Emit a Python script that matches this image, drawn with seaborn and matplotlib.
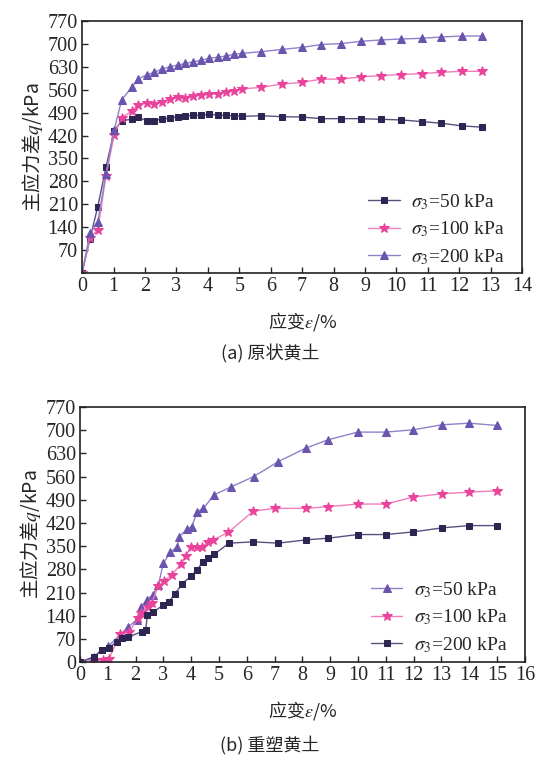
import numpy as np
import pandas as pd
import matplotlib
matplotlib.use('Agg')
import matplotlib.pyplot as plt
import seaborn as sns

# (a) undisturbed loess: strain (%) and deviator stress q (kPa)
strain_a = [0, 0.25, 0.5, 0.76, 1.02, 1.26, 1.58, 1.77, 2.06, 2.29, 2.54, 2.79, 3.04,
            3.28, 3.54, 3.79, 4.04, 4.32, 4.58, 4.83, 5.09, 5.70, 6.36, 6.98, 7.61,
            8.25, 8.88, 9.52, 10.16, 10.80, 11.43, 12.07, 12.71]
q_a_50 = [0, 103, 203, 323, 434, 466, 470, 476, 466, 466, 471, 473, 478,
          481, 482, 483, 485, 483, 482, 481, 479, 481, 478, 477, 472,
          472, 472, 470, 468, 463, 458, 450, 446]
q_a_100 = [0, 108, 131, 297, 422, 475, 495, 514, 521, 516, 524, 531, 537,
           534, 542, 544, 547, 548, 553, 557, 563, 568, 578, 583, 593,
           593, 600, 604, 607, 610, 614, 617, 617]
q_a_200 = [0, 121, 157, 303, 437, 530, 568, 593, 606, 614, 624, 631, 636,
           641, 646, 651, 657, 660, 664, 669, 672, 677, 684, 690, 699,
           702, 709, 713, 716, 718, 722, 725, 725]

# (b) remoulded loess
strain_b_50 = [0, 0.5, 1.02, 1.74, 2.04, 2.2, 2.4, 2.61, 2.82, 3.0, 3.24, 3.5, 3.57,
               3.86, 4.02, 4.22, 4.44, 4.83, 5.42, 6.25, 7.13, 8.13, 8.93, 9.99,
               11.0, 11.99, 13.01, 14.0, 14.99]
q_b_50 = [0, 15, 48, 107, 127, 165, 189, 202, 233, 298, 331, 348, 379,
          401, 409, 454, 464, 505, 528, 560, 605, 646, 671, 694,
          694, 701, 716, 721, 714]
strain_b_100 = [0, 0.51, 0.84, 1.05, 1.44, 1.76, 2.1, 2.18, 2.46, 2.58, 2.82, 3.03,
                3.3, 3.63, 3.81, 3.99, 4.21, 4.4, 4.62, 4.8, 5.34, 6.24, 7.01,
                8.13, 8.93, 9.99, 11.0, 11.99, 13.01, 14.0, 14.99]
q_b_100 = [0, 6, 8, 11, 85, 92, 132, 147, 167, 177, 230, 246,
           263, 296, 321, 347, 348, 348, 363, 369, 392, 456, 464,
           464, 469, 477, 477, 498, 508, 513, 517]
strain_b_200 = [0, 0.51, 0.78, 1.05, 1.32, 1.5, 1.72, 2.22, 2.36, 2.43, 2.64, 3.0,
                3.2, 3.42, 3.68, 3.99, 4.22, 4.41, 4.62, 4.82, 5.36, 6.24, 7.13,
                8.13, 8.93, 9.99, 11.0, 11.99, 13.01, 14.0, 14.99]
q_b_200 = [0, 16, 38, 44, 61, 72, 75, 92, 97, 142, 152, 172,
           182, 207, 236, 260, 278, 303, 313, 325, 359, 363, 359,
           369, 374, 385, 385, 393, 405, 412, 412]

yticks = [70, 140, 210, 280, 350, 420, 490, 560, 630, 700, 770]

c_sq = '#2e2553'
c_st = '#e9449b'
c_tr = '#6a54ae'
line_c = {'sq': '#5a5080', 'st': '#f27cba', 'tr': '#8f82c9'}

sns.set_style('ticks')
plt.rcParams['font.family'] = ['Liberation Serif', 'Noto Sans CJK SC']
plt.rcParams['mathtext.fontset'] = 'stix'
plt.rcParams['xtick.direction'] = 'in'
plt.rcParams['ytick.direction'] = 'in'

cjk = ['Noto Sans CJK SC']

fig = plt.figure(figsize=(5.4, 7.62), dpi=100)
ax1 = fig.add_axes([0.152, 0.642, 0.815, 0.330])
ax2 = fig.add_axes([0.148, 0.131, 0.824, 0.335])


def draw(ax, x, y, mk, col, lc, ms, lab):
    df = pd.DataFrame({'x': x, 'y': y})
    sns.lineplot(data=df, x='x', y='y', ax=ax, color=lc, lw=1.0, sort=False,
                 estimator=None, marker=mk, markersize=ms, markerfacecolor=col,
                 markeredgecolor=col, label=lab)


draw(ax1, strain_a, q_a_50, 's', c_sq, line_c['sq'], 5, r'$\sigma_3$=50 kPa')
draw(ax1, strain_a, q_a_100, '*', c_st, line_c['st'], 7.5, r'$\sigma_3$=100 kPa')
draw(ax1, strain_a, q_a_200, '^', c_tr, line_c['tr'], 6, r'$\sigma_3$=200 kPa')

draw(ax2, strain_b_50, q_b_50, '^', c_tr, line_c['tr'], 6, r'$\sigma_3$=50 kPa')
draw(ax2, strain_b_100, q_b_100, '*', c_st, line_c['st'], 7.5, r'$\sigma_3$=100 kPa')
draw(ax2, strain_b_200, q_b_200, 's', c_sq, line_c['sq'], 5, r'$\sigma_3$=200 kPa')

for ax, xmax, yt, ly in [(ax1, 14, yticks, -0.045), (ax2, 16, [0] + yticks, -0.04)]:
    ax.set_xlim(0, xmax)
    ax.set_ylim(0, 770)
    ax.set_xticks(range(0, xmax + 1))
    ax.set_yticks(yt)
    ax.tick_params(labelsize=14.5, length=4, width=1, pad=3)
    for s in ax.spines.values():
        s.set_linewidth(1.2)
        s.set_color('#222222')
    ax.set_xlabel('应变$\\varepsilon$/%', fontsize=13, labelpad=10, family=cjk)
    ax.set_ylabel('主应力差$q$/kPa', fontsize=14, labelpad=2, family=cjk)
    ax.legend(loc='lower right', bbox_to_anchor=(1.0, ly), frameon=False,
              fontsize=14, handlelength=1.6, handletextpad=0.6, labelspacing=0.4)

fig.text(0.5, 0.536, '(a) 原状黄土', ha='center', va='center', fontsize=13, family=cjk)
fig.text(0.5, 0.022, '(b) 重塑黄土', ha='center', va='center', fontsize=13, family=cjk)

fig.savefig('out.png', dpi=100)
